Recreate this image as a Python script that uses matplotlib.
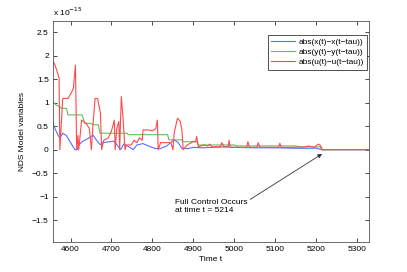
import matplotlib
matplotlib.use("Agg")
import matplotlib.pyplot as plt

plt.rcParams['font.family'] = ['Liberation Sans', 'DejaVu Sans']

# time / value pairs, values in units of 1e-15
t_x = [4557, 4562, 4570, 4574, 4581, 4590, 4600, 4611, 4616, 4620, 4630, 4645, 4655, 4662,
       4672, 4680, 4695, 4705, 4712, 4718, 4722, 4730, 4745, 4753, 4762, 4777, 4790, 4805,
       4818, 4835, 4852, 4862, 4872, 4885, 4900, 4920, 4950, 4980, 5000, 5050, 5100, 5150,
       5200, 5213, 5329]
v_x = [0.56, 0.45, 0.30, 0.25, 0.35, 0.30, 0.15, 0.00, 0.00, 0.10, 0.18, 0.25, 0.31, 0.22,
       0.11, 0.15, 0.17, 0.18, 0.12, 0.05, 0.00, 0.12, 0.05, 0.00, 0.10, 0.13, 0.08, 0.03,
       0.02, 0.08, 0.21, 0.16, 0.03, 0.02, 0.05, 0.04, 0.05, 0.06, 0.05, 0.04, 0.04, 0.03,
       0.03, 0.00, 0.00]

t_y = [4557, 4565, 4573, 4578, 4590, 4594, 4628, 4631, 4635, 4650, 4655, 4668, 4672, 4738,
       4741, 4837, 4840, 4872, 4875, 4908, 4912, 5000, 5005, 5150, 5160, 5213, 5214, 5329]
v_y = [1.02, 0.95, 0.92, 0.88, 0.88, 0.74, 0.74, 0.67, 0.56, 0.56, 0.53, 0.53, 0.35, 0.35,
       0.32, 0.32, 0.21, 0.21, 0.17, 0.17, 0.10, 0.10, 0.08, 0.08, 0.06, 0.06, 0.00, 0.00]

t_u = [4557, 4560, 4566, 4572, 4574, 4581, 4594, 4603, 4607, 4612, 4615, 4618, 4620, 4624,
       4627, 4639, 4646, 4651, 4655, 4660, 4666, 4673, 4676, 4681, 4692, 4700, 4707, 4709,
       4713, 4718, 4720, 4722, 4724, 4728, 4733, 4736, 4748, 4755, 4762, 4768, 4775, 4777,
       4790, 4800, 4808, 4812, 4814, 4820, 4845, 4850, 4853, 4861, 4868, 4872, 4875, 4885,
       4895, 4900, 4905, 4908, 4912, 4925, 4935, 4940, 4945, 4966, 4969, 4975, 4985, 4987,
       4990, 5030, 5033, 5037, 5055, 5058, 5062, 5070, 5108, 5111, 5114, 5140, 5175, 5180,
       5195, 5205, 5209, 5213, 5329]
v_u = [1.84, 1.85, 1.70, 1.53, 0.00, 1.09, 1.09, 1.23, 1.31, 1.80, 0.00, 0.30, 0.00, 0.35,
       0.63, 0.55, 0.45, 0.00, 0.55, 1.09, 1.09, 0.78, 0.00, 0.20, 0.25, 0.40, 0.63, 0.00,
       0.45, 0.60, 0.00, 0.60, 1.13, 0.70, 0.00, 0.10, 0.10, 0.20, 0.15, 0.25, 0.20, 0.42,
       0.42, 0.40, 0.45, 0.63, 0.00, 0.15, 0.15, 0.00, 0.35, 0.67, 0.60, 0.40, 0.00, 0.10,
       0.15, 0.17, 0.17, 0.28, 0.06, 0.10, 0.08, 0.12, 0.06, 0.06, 0.15, 0.06, 0.06, 0.20,
       0.05, 0.05, 0.17, 0.05, 0.05, 0.15, 0.05, 0.05, 0.05, 0.14, 0.05, 0.05, 0.06, 0.08,
       0.05, 0.12, 0.10, 0.00, 0.00]

labels = ['abs(x(t)\u2212x(t\u2212tau))', 'abs(y(t)\u2212y(t\u2212tau))', 'abs(u(t)\u2212u(t\u2212tau))']

fig = plt.figure(figsize=(4.07, 2.72), dpi=100)
ax = fig.add_axes([0.130, 0.111, 0.777, 0.813])

ax.plot(t_x, v_x, color='#5b6dff', lw=0.8, label=labels[0])
ax.plot(t_y, v_y, color='#5cc35c', lw=0.8, label=labels[1])
ax.plot(t_u, v_u, color='#ff4a4a', lw=0.8, label=labels[2])

ax.set_xlim(4557, 5329)
ax.set_ylim(-1.96, 2.745)
ax.set_xticks([4600, 4700, 4800, 4900, 5000, 5100, 5200, 5300])
ax.set_yticks([-1.5, -1, -0.5, 0, 0.5, 1, 1.5, 2, 2.5])
ax.set_yticklabels(['\u22121.5', '\u22121', '\u22120.5', '0', '0.5', '1', '1.5', '2', '2.5'])
ax.tick_params(direction='in', top=True, right=True, labelsize=6, length=3, width=0.5,
               pad=3)
for s in ax.spines.values():
    s.set_linewidth(0.6)
    s.set_color('#555555')

ax.set_xlabel('Time t', fontsize=6, labelpad=2)
ax.set_ylabel('NDS Model variables', fontsize=6, labelpad=4)
ax.text(0.0, 1.012, 'x 10$^{-15}$', transform=ax.transAxes, fontsize=6,
        ha='left', va='bottom')

leg = ax.legend(loc='upper right', bbox_to_anchor=(1.0, 0.945), fontsize=6,
                fancybox=False, framealpha=1, edgecolor='#333333', handlelength=2.8,
                borderpad=0.4, labelspacing=0.3, handletextpad=0.5, borderaxespad=0.2)
leg.get_frame().set_linewidth(0.6)

ax.annotate('Full Control Occurs\nat time t = 5214', xy=(5214, -0.09), xytext=(4855, -1.21),
            fontsize=6, ha='left', va='center', linespacing=1.3,
            arrowprops=dict(arrowstyle='-|>', color='#333333', lw=0.6,
                            mutation_scale=6, shrinkA=0, shrinkB=0,
                            relpos=(1.0, 0.85)))

fig.savefig('out.png', dpi=100)
